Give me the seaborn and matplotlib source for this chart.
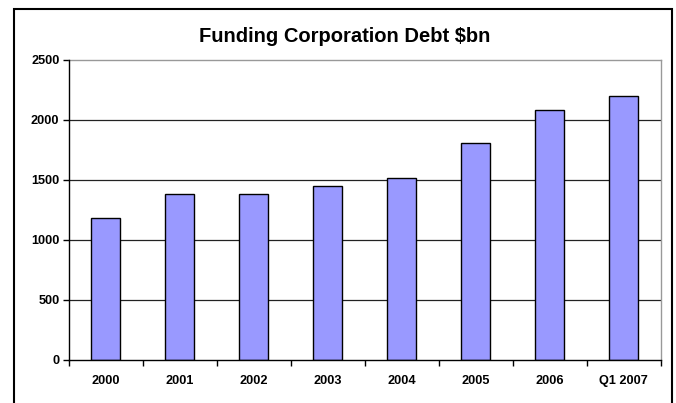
import matplotlib
matplotlib.use("Agg")
import matplotlib.pyplot as plt
from matplotlib.patches import Rectangle
from matplotlib.ticker import FixedLocator
import seaborn as sns
import pandas as pd

categories = ["2000", "2001", "2002", "2003", "2004", "2005", "2006", "Q1 2007"]
debt_bn = [1180, 1380, 1380, 1450, 1520, 1810, 2080, 2200]
y_ticks = [0, 500, 1000, 1500, 2000, 2500]
title = "Funding Corporation Debt $bn"

sns.set_theme(style="white")
plt.rcParams['font.family'] = ['Liberation Sans', 'DejaVu Sans']
plt.rcParams['text.color'] = 'black'
plt.rcParams['xtick.color'] = 'black'
plt.rcParams['ytick.color'] = 'black'

W, H = 676, 403
fig = plt.figure(figsize=(W / 100, H / 100), dpi=100)
left, right, top, bottom = 68.5, 660.5, 60, 360
ax = fig.add_axes([left / W, (H - bottom) / H, (right - left) / W, (bottom - top) / H])

df = pd.DataFrame({"cat": categories, "val": debt_bn})
sns.barplot(data=df, x="cat", y="val", ax=ax, color="#9999FF", saturation=1,
            edgecolor="black", linewidth=1.0, width=0.4, zorder=3)

ax.set_xlim(-0.5, len(categories) - 0.5)
ax.set_ylim(0, 2500)
ax.set_yticks(y_ticks)
ax.set_yticklabels([str(t) for t in y_ticks], fontsize=9.2, fontweight="bold", color="black")
ax.set_xticks(range(len(categories)))
ax.set_xticklabels(categories, fontsize=9.2, fontweight="bold", color="black")
ax.xaxis.set_minor_locator(FixedLocator([i - 0.5 for i in range(len(categories) + 1)]))
ax.tick_params(axis="x", which="major", length=0, pad=11)
ax.tick_params(axis="x", which="minor", length=4, width=1, color="black", direction="out", bottom=True)
ax.tick_params(axis="y", which="major", length=4.5, width=1, color="black", direction="out", left=True, pad=2)
ax.set_xlabel("")
ax.set_ylabel("")

for t in y_ticks[1:-1]:
    ax.axhline(t, color="#222222", linewidth=0.9, zorder=1)

for s in ["left", "bottom"]:
    ax.spines[s].set_color("black")
    ax.spines[s].set_linewidth(1.0)
    ax.spines[s].set_zorder(4)
for s in ["top", "right"]:
    ax.spines[s].set_color("#999999")
    ax.spines[s].set_linewidth(1.0)

fig.text(345 / W, 1 - 36 / H, title, fontsize=14.5, fontweight="bold",
         ha="center", va="center", color="black")

frame = Rectangle((14 / W, -0.05), (672 - 14) / W, 1.05 - 9 / H,
                  transform=fig.transFigure, fill=False, edgecolor="black",
                  linewidth=1.5, clip_on=False)
fig.patches.append(frame)

fig.savefig("out.png", dpi=100)
